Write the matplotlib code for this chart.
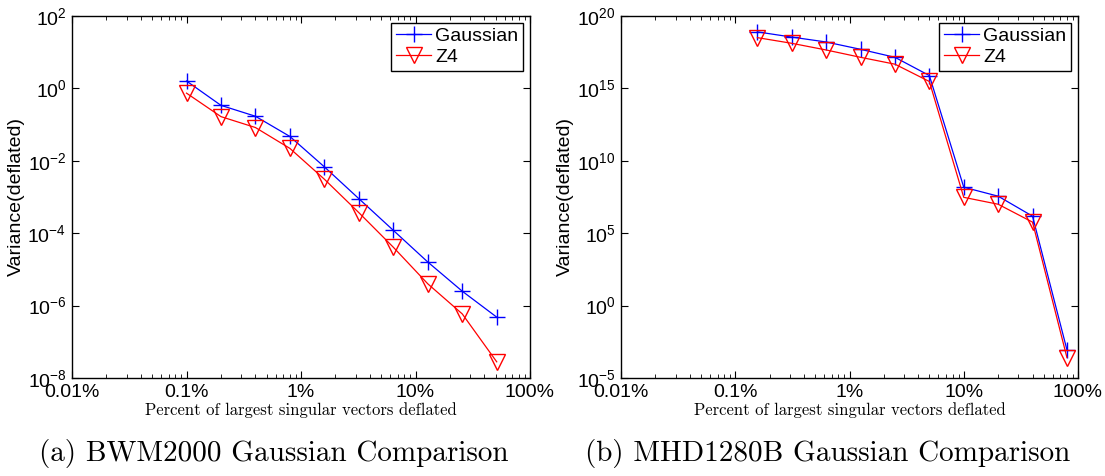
import numpy as np
import matplotlib
matplotlib.use('Agg')
import matplotlib.pyplot as plt
from matplotlib.ticker import LogLocator, NullLocator, FuncFormatter

plt.rcParams['font.family'] = ['Liberation Sans', 'DejaVu Sans']
plt.rcParams['mathtext.fontset'] = 'custom'
plt.rcParams['mathtext.rm'] = 'Liberation Sans'
plt.rcParams['mathtext.it'] = 'Liberation Sans:italic'

# (a) BWM2000 - percent deflated and variance
pct_a = [0.1, 0.2, 0.4, 0.8, 1.6, 3.2, 6.4, 12.8, 25.6, 51.2]
gauss_a = [1.6, 0.34, 0.17, 0.047, 0.0068, 9e-4, 1.2e-4, 1.6e-5, 2.5e-6, 4.8e-7]
z4_a = [0.74, 0.166, 0.083, 0.022, 0.0031, 3.7e-4, 4.1e-5, 4e-6, 5.9e-7, 2.8e-8]

# (b) MHD1280B
pct_b = [0.15625, 0.3125, 0.625, 1.25, 2.5, 5, 10, 20, 40, 80]
gauss_b = [8e18, 3.5e18, 1.6e18, 5e17, 1.4e17, 7.7e15, 1.5e8, 3.6e7, 1.5e6, 8.9e-4]
z4_b = [3.2e18, 1.3e18, 4.5e17, 1.4e17, 4.7e16, 3e15, 3e7, 1e7, 5.8e5, 2.6e-4]

x_ticks = [0.01, 0.1, 1, 10, 100]
x_labels = ['0.01%', '0.1%', '1%', '10%', '100%']

fig = plt.figure(figsize=(11.05, 4.76), dpi=100)
W, H = 1105, 476


def sci(v, pos):
    e = int(round(np.log10(v)))
    return r'$10^{%d}$' % e


def setup(ax, ylim, yticks):
    ax.set_xscale('log')
    ax.set_yscale('log')
    ax.set_xlim(0.01, 100)
    ax.set_ylim(*ylim)
    ax.set_xticks(x_ticks)
    ax.set_xticklabels(x_labels)
    ax.xaxis.set_minor_locator(LogLocator(base=10, subs=np.arange(2, 10)))
    ax.set_yticks(yticks)
    ax.yaxis.set_major_formatter(FuncFormatter(sci))
    ax.yaxis.set_minor_locator(NullLocator())
    ax.tick_params(which='both', direction='in', top=True, right=True)
    ax.tick_params(which='major', length=5, width=0.8, labelsize=14, pad=4)
    ax.tick_params(which='minor', length=3, width=0.6)
    for s in ax.spines.values():
        s.set_linewidth(1.0)
    ax.set_ylabel('Variance(deflated)', fontsize=14, labelpad=2)
    ax.set_xlabel('Percent of largest singular vectors deflated',
                  family='cmr10', fontsize=12, labelpad=1)


def draw(ax, x, g, z):
    ax.plot(x, g, color='blue', marker='+', markersize=11, lw=0.9,
            mew=1.0, label='Gaussian')
    ax.plot(x, z, color='red', marker='v', markersize=11, lw=0.9,
            mew=1.0, fillstyle='none', label='Z4')
    leg = ax.legend(loc='upper right', fontsize=14, frameon=True, fancybox=False,
                    edgecolor='black', framealpha=1, borderpad=0.25,
                    handlelength=1.8, handletextpad=0.2, labelspacing=0.15,
                    borderaxespad=0.35)
    leg.get_frame().set_linewidth(1.0)


ax1 = fig.add_axes([72 / W, 1 - 378 / H, 458 / W, 362 / H])
draw(ax1, pct_a, gauss_a, z4_a)
setup(ax1, (1e-8, 1e2), [1e-8, 1e-6, 1e-4, 1e-2, 1e0, 1e2])

ax2 = fig.add_axes([621 / W, 1 - 378 / H, 457 / W, 362 / H])
draw(ax2, pct_b, gauss_b, z4_b)
setup(ax2, (1e-5, 1e20), [1e-5, 1e0, 1e5, 1e10, 1e15, 1e20])

fig.text(274 / W, 1 - 453 / H, '(a) BWM2000 Gaussian Comparison',
         family='cmr10', fontsize=21, ha='center', va='center')
fig.text(828 / W, 1 - 453 / H, '(b) MHD1280B Gaussian Comparison',
         family='cmr10', fontsize=21, ha='center', va='center')

fig.savefig('out.png', dpi=100)
